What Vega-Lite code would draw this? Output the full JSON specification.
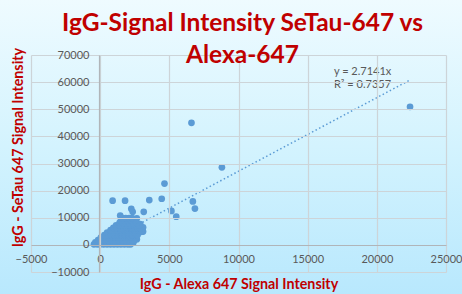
{
  "$schema": "https://vega.github.io/schema/vega-lite/v6.json",
  "width": 415,
  "height": 217,
  "autosize": {"type": "none"},
  "padding": {"left": 31, "top": 55, "right": 16, "bottom": 22},
  "background": "#d6f3fe",
  "config": {
    "view": {"stroke": null},
    "axis": {
      "grid": true,
      "gridColor": "#cdd4d8",
      "gridWidth": 1.2,
      "gridOpacity": 1,
      "domainColor": "#b0b5b9",
      "domainWidth": 1.2,
      "ticks": false,
      "format": "d",
      "labelOverlap": false,
      "labelFont": "Lato",
      "labelFontSize": 11,
      "labelColor": "#595959",
      "titleFont": "Lato",
      "titleFontSize": 14.3,
      "titleFontWeight": "bold",
      "titleColor": "#c00000"
    }
  },
  "title": {
    "text": ["IgG-Signal Intensity SeTau-647 vs", "Alexa-647"],
    "font": "Lato",
    "fontSize": 24.5,
    "fontWeight": "bold",
    "color": "#c00000",
    "lineHeight": 32,
    "anchor": "middle",
    "frame": "group",
    "offset": -70,
    "dx": 4,
    "zindex": 3
  },
  "datasets": {
    "points": [
      {"x": 900, "y": 16300}, {"x": 1800, "y": 16300}, {"x": 3550, "y": 16500}, {"x": 4450, "y": 17000},
      {"x": 4650, "y": 22600}, {"x": 6600, "y": 45000}, {"x": 8800, "y": 28600}, {"x": 6700, "y": 16000},
      {"x": 6850, "y": 13400}, {"x": 5150, "y": 12500}, {"x": 5500, "y": 10400}, {"x": 2250, "y": 13300},
      {"x": 2350, "y": 12200}, {"x": 3150, "y": 12200}, {"x": 1450, "y": 10800}, {"x": 22400, "y": 50900},
      {"x": 2050, "y": 9600}, {"x": 2650, "y": 9800}, {"x": 2900, "y": 7700}, {"x": 3100, "y": 4900},
      {"x": 3050, "y": 5800}, {"x": 3100, "y": 6500}, {"x": 2950, "y": 4800}, {"x": 2650, "y": 2100},
      {"x": -450, "y": 200}, {"x": -200, "y": 200}, {"x": 0, "y": 200}, {"x": 250, "y": 200}, {"x": 500, "y": 200},
      {"x": 750, "y": 200}, {"x": 1000, "y": 200}, {"x": 1250, "y": 200}, {"x": 1500, "y": 200}, {"x": 1750, "y": 200},
      {"x": 2000, "y": 200}, {"x": 2200, "y": 200},
      {"x": -350, "y": 900}, {"x": -100, "y": 900}, {"x": 150, "y": 900}, {"x": 400, "y": 900}, {"x": 650, "y": 900},
      {"x": 900, "y": 900}, {"x": 1150, "y": 900}, {"x": 1400, "y": 900}, {"x": 1650, "y": 900}, {"x": 1900, "y": 900},
      {"x": 2150, "y": 900}, {"x": 2400, "y": 900},
      {"x": -150, "y": 1800}, {"x": 100, "y": 1800}, {"x": 350, "y": 1800}, {"x": 600, "y": 1800}, {"x": 850, "y": 1800},
      {"x": 1100, "y": 1800}, {"x": 1350, "y": 1800}, {"x": 1600, "y": 1800}, {"x": 1850, "y": 1800}, {"x": 2100, "y": 1800},
      {"x": 2350, "y": 1800}, {"x": 2500, "y": 1800},
      {"x": 50, "y": 2700}, {"x": 300, "y": 2700}, {"x": 550, "y": 2700}, {"x": 800, "y": 2700}, {"x": 1050, "y": 2700},
      {"x": 1300, "y": 2700}, {"x": 1550, "y": 2700}, {"x": 1800, "y": 2700}, {"x": 2050, "y": 2700}, {"x": 2300, "y": 2700},
      {"x": 2550, "y": 2700},
      {"x": 300, "y": 3600}, {"x": 550, "y": 3600}, {"x": 800, "y": 3600}, {"x": 1050, "y": 3600}, {"x": 1300, "y": 3600},
      {"x": 1550, "y": 3600}, {"x": 1800, "y": 3600}, {"x": 2050, "y": 3600}, {"x": 2300, "y": 3600}, {"x": 2550, "y": 3600},
      {"x": 2700, "y": 3600},
      {"x": 500, "y": 4500}, {"x": 750, "y": 4500}, {"x": 1000, "y": 4500}, {"x": 1250, "y": 4500}, {"x": 1500, "y": 4500},
      {"x": 1750, "y": 4500}, {"x": 2000, "y": 4500}, {"x": 2250, "y": 4500}, {"x": 2500, "y": 4500}, {"x": 2750, "y": 4500},
      {"x": 750, "y": 5400}, {"x": 1000, "y": 5400}, {"x": 1250, "y": 5400}, {"x": 1500, "y": 5400}, {"x": 1750, "y": 5400},
      {"x": 2000, "y": 5400}, {"x": 2250, "y": 5400}, {"x": 2500, "y": 5400}, {"x": 2800, "y": 5400},
      {"x": 950, "y": 6300}, {"x": 1200, "y": 6300}, {"x": 1450, "y": 6300}, {"x": 1700, "y": 6300}, {"x": 1950, "y": 6300},
      {"x": 2200, "y": 6300}, {"x": 2450, "y": 6300}, {"x": 2700, "y": 6300}, {"x": 2850, "y": 6300},
      {"x": 1150, "y": 7200}, {"x": 1400, "y": 7200}, {"x": 1650, "y": 7200}, {"x": 1900, "y": 7200}, {"x": 2150, "y": 7200},
      {"x": 2400, "y": 7200}, {"x": 2650, "y": 7200}, {"x": 2850, "y": 7200},
      {"x": 1400, "y": 8100}, {"x": 1650, "y": 8100}, {"x": 1900, "y": 8100}, {"x": 2150, "y": 8100}, {"x": 2400, "y": 8100},
      {"x": 2650, "y": 8100},
      {"x": 1500, "y": 9000}, {"x": 1750, "y": 9000}, {"x": 2000, "y": 9000}, {"x": 2250, "y": 9000}, {"x": 2550, "y": 9000},
      {"x": 1600, "y": 9900}, {"x": 1850, "y": 9900}, {"x": 2100, "y": 9900}, {"x": 2300, "y": 9900}
    ],
    "trend": [{"x": 0, "y": 0}, {"x": 22400, "y": 60796}],
    "labels": [
      {"x": 16900, "y": 63800, "label": "y = 2.7141x"},
      {"x": 16900, "y": 59000, "label": "R² = 0.7357"}
    ],
    "bg": [{"name": "background"}]
  },
  "layer": [
    {
      "data": {"name": "bg"},
      "mark": {
        "type": "rect",
        "fill": {
          "gradient": "linear",
          "x1": 0, "y1": 0, "x2": 0, "y2": 1,
          "stops": [
            {"offset": 0, "color": "#effbff"},
            {"offset": 0.5, "color": "#d3f3fe"},
            {"offset": 1, "color": "#b8e8fd"}
          ]
        }
      },
      "encoding": {
        "x": {"datum": -7600, "type": "quantitative"},
        "x2": {"datum": 26700},
        "y": {"datum": 91000, "type": "quantitative"},
        "y2": {"datum": -19000}
      }
    },
    {
      "data": {"name": "points"},
      "mark": {"type": "circle", "size": 45, "color": "#5b9bd5", "opacity": 1},
      "encoding": {
        "x": {
          "field": "x", "type": "quantitative",
          "scale": {"domain": [-5000, 25000], "nice": false, "zero": false},
          "axis": {
            "title": "IgG - Alexa 647 Signal Intensity",
            "values": [-5000, 0, 5000, 10000, 15000, 20000, 25000],
            "tickCount": 12,
            "offset": -27,
            "zindex": 1,
            "grid": true,
            "labelOverlap": false,
            "labelPadding": 8,
            "labelFlush": false,
            "titleY": 39,
            "titleBaseline": "middle"
          }
        },
        "y": {
          "field": "y", "type": "quantitative",
          "scale": {"domain": [-10000, 70000], "nice": false, "zero": false},
          "axis": {
            "title": "IgG - SeTau 647 Signal Intensity",
            "values": [-10000, 0, 10000, 20000, 30000, 40000, 50000, 60000, 70000],
            "tickCount": 12,
            "offset": -68,
            "zindex": 1,
            "grid": true,
            "labelOverlap": false,
            "labelPadding": 10,
            "titleX": -81,
            "titleY": 92,
            "titleAlign": "center",
            "titleBaseline": "middle"
          }
        }
      }
    },
    {
      "data": {"name": "trend"},
      "mark": {"type": "line", "color": "#5b9bd5", "strokeWidth": 1.5, "strokeDash": [1.5, 2.5]},
      "encoding": {
        "x": {"field": "x", "type": "quantitative"},
        "y": {"field": "y", "type": "quantitative"}
      }
    },
    {
      "data": {"name": "labels"},
      "mark": {"type": "text", "align": "left", "baseline": "middle", "font": "Lato", "fontSize": 11, "color": "#595959"},
      "encoding": {
        "x": {"field": "x", "type": "quantitative"},
        "y": {"field": "y", "type": "quantitative"},
        "text": {"field": "label"}
      }
    }
  ]
}
